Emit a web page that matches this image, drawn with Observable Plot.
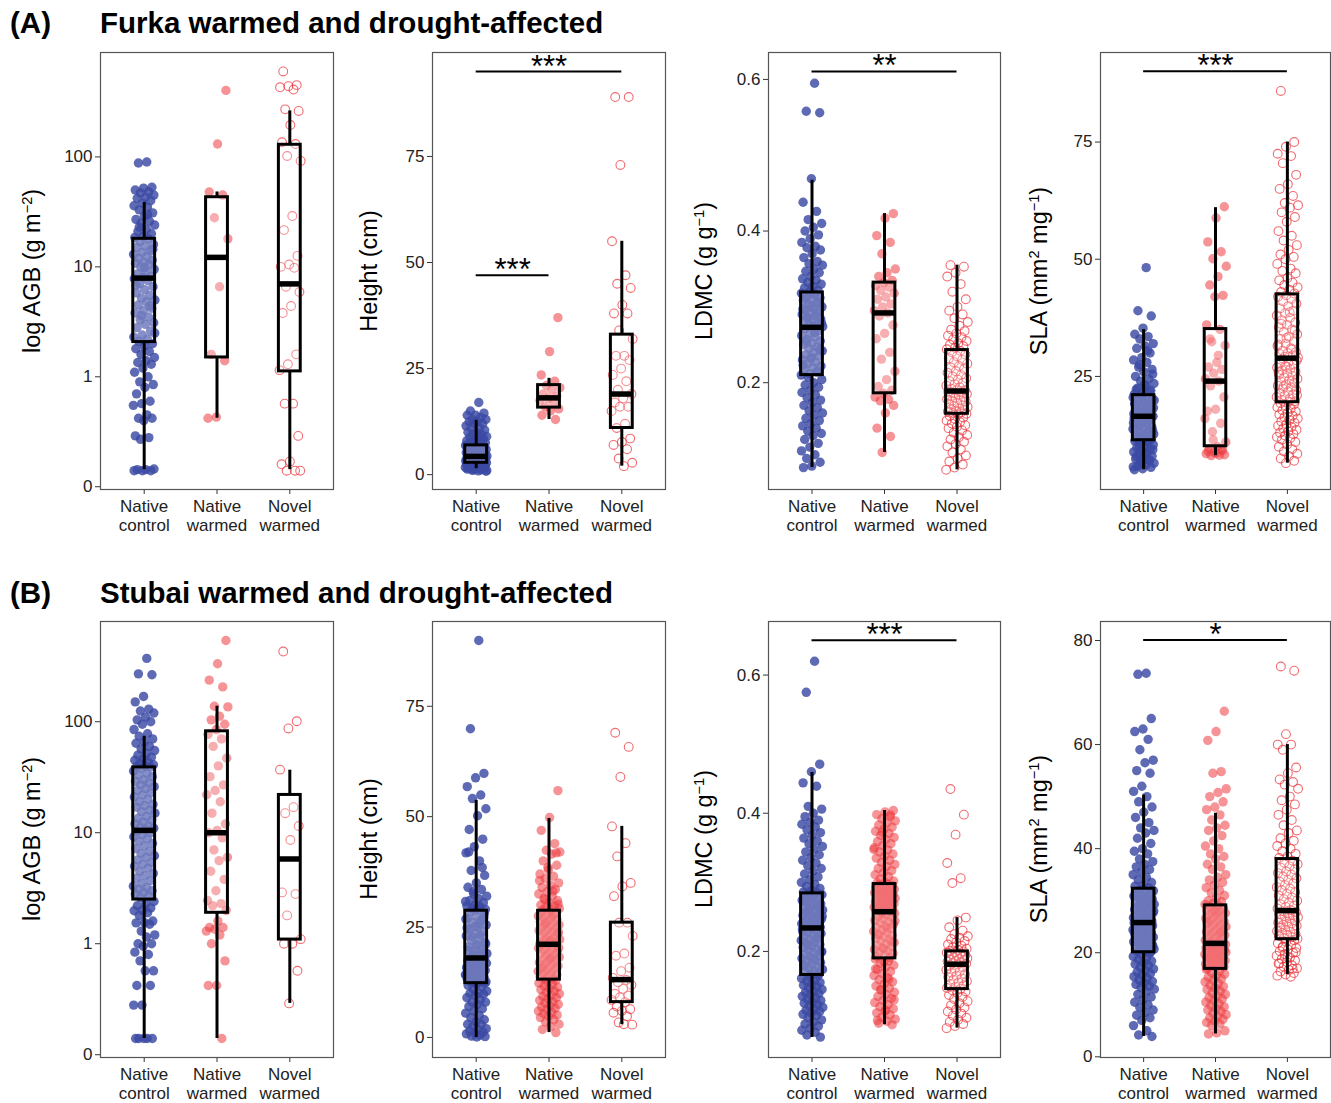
<!DOCTYPE html>
<html><head><meta charset="utf-8">
<script src="https://cdn.jsdelivr.net/npm/d3@7"></script>
<script src="https://cdn.jsdelivr.net/npm/@observablehq/plot@0.6"></script>
<style>
body{margin:0;background:#fff;}
#fig{position:relative;width:1331px;height:1103px;overflow:hidden;font-family:"Liberation Sans",Arial,Helvetica,sans-serif;background:#fff;}
.tag,.title{position:absolute;font-weight:bold;font-size:29.5px;line-height:1;color:#000;white-space:nowrap;}
.ylab{position:absolute;font-size:23.5px;color:#000;white-space:nowrap;line-height:1;transform:translate(-50%,-50%) rotate(-90deg);}
.ylab sup{font-size:0.62em;vertical-align:0.55em;line-height:0;}
.panel{position:absolute;}
.panel svg{overflow:visible;background:transparent;}
</style></head><body><div id="fig"></div>
<script>
// ---------- categories & tick labels ----------
const categories = ["Native\ncontrol", "Native\nwarmed", "Novel\nwarmed"];
const agbTicks = [0.1, 1, 10, 100];
const agbTickLabels = ["0", "1", "10", "100"];
const heightTicks = [0, 25, 50, 75];
const ldmcTicks = [0.2, 0.4, 0.6];
const furkaSlaTicks = [25, 50, 75];
const stubaiSlaTicks = [0, 20, 40, 60, 80];

// ---------- Furka: log AGB (g m-2) ----------
const furkaAgb_nc = [90, 88, 53, 52, 50, 48, 47, 45, 43, 42, 40, 38, 36, 35, 33, 31, 29, 27, 26, 25, 24, 22, 21, 20, 19, 18.5, 18, 17, 16, 15.5, 15, 14, 13.5, 13, 12.5, 12, 11.5, 11, 10.8, 10.5, 10, 9.5, 9, 8.6, 8.2, 8, 7.8, 7.5, 7, 6.6, 6.2, 5.8, 5.5, 5.2, 5, 4.8, 4.5, 4.2, 4, 3.8, 3.5, 3.3, 3.1, 3, 2.8, 2.6, 2.4, 2.3, 2.2, 2.1, 2.0, 1.9, 1.8, 1.7, 1.6, 1.5, 1.4, 1.35, 1.3, 1.2, 1.1, 1.0, 0.9, 0.85, 0.8, 0.7, 0.6, 0.57, 0.55, 0.45, 0.42, 0.42, 0.4, 0.29, 0.28, 0.27, 0.145, 0.143, 0.143, 0.14, 0.14, 0.14, 30, 23, 14.5, 9.8, 6.8, 4.4, 3.6, 2.5];
const furkaAgb_nw = [403, 131, 48, 45, 28, 18, 6.6, 1.6, 1.4, 0.43, 0.42];
const furkaAgb_vw = [599, 450, 440, 430, 410, 271, 262, 195, 136, 131, 102, 92, 29, 21.6, 12.6, 10.5, 10, 9.8, 6.6, 5.9, 4.4, 3.8, 1.6, 1.3, 1.15, 0.57, 0.57, 0.29, 0.17, 0.16, 0.14, 0.14, 0.14];
const furkaAgbBox = [[0.143, 2.07, 7.9, 18, 38.6], [0.42, 1.5, 12.2, 43, 48], [0.143, 1.12, 7.0, 129, 262]];

// ---------- Furka: Height (cm) ----------
const furkaHeight_nc = [17, 15, 14.5, 14, 14, 13.5, 13, 13, 12.5, 12.5, 12, 12, 11.5, 11, 11, 10.5, 10, 10, 9.5, 9.5, 9, 9, 8.8, 8.5, 8.2, 8, 8, 7.8, 7.5, 7.5, 7.2, 7, 7, 6.9, 6.8, 6.6, 6.5, 6.4, 6.2, 6, 6, 5.9, 5.8, 5.6, 5.5, 5.4, 5.2, 5, 5, 4.9, 4.8, 4.7, 4.6, 4.5, 4.4, 4.3, 4.3, 4.2, 4.1, 4, 4, 3.9, 3.8, 3.7, 3.6, 3.5, 3.5, 3.4, 3.3, 3.2, 3.1, 3, 3, 2.9, 2.8, 2.8, 2.7, 2.6, 2.5, 2.5, 2.4, 2.3, 2.2, 2.1, 2, 2, 1.9, 1.8, 1.7, 1.6, 1.5, 1.5, 1.4, 1.3, 1.2, 1, 0.8, 4.2, 3.9, 3.6, 3.3, 3.0, 2.7, 2.4, 2.1, 1.8, 1.6, 1.4, 1.2, 1.0, 0.9];
const furkaHeight_nw = [37, 29, 23.5, 22, 21, 20.5, 20, 19, 18.5, 18, 17.5, 17, 16, 15.5, 15, 14, 13];
const furkaHeight_vw = [89, 89, 73, 55, 47, 45, 44, 40, 38, 38, 34, 32, 28, 28, 27, 25, 23.5, 22, 20, 19, 18, 17, 16, 16, 15, 12, 11, 8.5, 7.7, 7, 6, 3.8, 2.8, 2];
const furkaHeightBox = [[1.4, 2.8, 4.3, 6.9, 12.8], [13, 15.8, 18.1, 21.1, 22.7], [2, 11, 19, 33, 55]];
const furkaHeightSig = [{a: 1, b: 3, y: 95, t: "***"}, {a: 1, b: 2, y: 47, t: "***"}];

// ---------- Furka: LDMC (g g-1) ----------
const furkaLdmc_nc = [0.595, 0.558, 0.556, 0.469, 0.438, 0.426, 0.415, 0.41, 0.405, 0.40, 0.395, 0.39, 0.385, 0.38, 0.378, 0.375, 0.37, 0.365, 0.36, 0.357, 0.355, 0.35, 0.347, 0.345, 0.34, 0.337, 0.335, 0.332, 0.33, 0.327, 0.325, 0.322, 0.32,
  0.318, 0.316, 0.314, 0.312, 0.31, 0.308, 0.305, 0.303, 0.3, 0.298, 0.296, 0.294, 0.292, 0.29, 0.288, 0.286, 0.284, 0.282, 0.28, 0.278, 0.276, 0.274, 0.317, 0.311, 0.306, 0.301, 0.297, 0.291, 0.285, 0.279, 0.275,
  0.271, 0.268, 0.265, 0.262, 0.26, 0.257, 0.255, 0.252, 0.25, 0.247, 0.245, 0.242, 0.24, 0.237, 0.235, 0.232, 0.23, 0.227, 0.225, 0.222, 0.22, 0.217, 0.215, 0.212, 0.21, 0.266, 0.254, 0.244, 0.233, 0.223, 0.214,
  0.207, 0.204, 0.2, 0.197, 0.194, 0.19, 0.187, 0.184, 0.18, 0.177, 0.174, 0.17, 0.167, 0.163, 0.16, 0.157, 0.153, 0.15, 0.146, 0.143, 0.14, 0.136, 0.133, 0.13, 0.125, 0.12, 0.115, 0.11, 0.105, 0.1, 0.095, 0.09, 0.088];
const furkaLdmc_nw = [0.423, 0.417, 0.394, 0.385, 0.37, 0.35, 0.345, 0.34, 0.335, 0.332, 0.328, 0.326, 0.322, 0.318, 0.313, 0.31, 0.304, 0.3, 0.295, 0.292, 0.288, 0.276, 0.265, 0.258, 0.24, 0.231, 0.215, 0.204, 0.195, 0.19, 0.186, 0.181, 0.178, 0.176, 0.17, 0.16, 0.14, 0.129, 0.108];
const furkaLdmc_vw = [0.355, 0.353, 0.345, 0.34, 0.33, 0.32, 0.31, 0.3, 0.295, 0.29, 0.285, 0.28, 0.275, 0.27, 0.268, 0.265, 0.262, 0.26, 0.257, 0.255, 0.252, 0.25, 0.248, 0.246, 0.244,
  0.242, 0.24, 0.237, 0.235, 0.232, 0.23, 0.227, 0.225, 0.222, 0.22, 0.218, 0.215, 0.213, 0.21, 0.208, 0.206, 0.204, 0.202, 0.2, 0.198, 0.196, 0.194, 0.192, 0.19, 0.19,
  0.188, 0.187, 0.186, 0.185, 0.184, 0.182, 0.181, 0.18, 0.178, 0.177, 0.176, 0.175, 0.173, 0.172, 0.17, 0.169, 0.168, 0.166, 0.165, 0.164, 0.163, 0.162, 0.161, 0.16, 0.159,
  0.158, 0.156, 0.154, 0.152, 0.15, 0.148, 0.146, 0.144, 0.142, 0.14, 0.137, 0.134, 0.131, 0.128, 0.125, 0.122, 0.119, 0.116, 0.112, 0.108, 0.104, 0.1, 0.096, 0.092, 0.088, 0.085];
const furkaLdmcBox = [[0.088, 0.21, 0.273, 0.319, 0.467], [0.108, 0.186, 0.292, 0.332, 0.423], [0.085, 0.159, 0.189, 0.243, 0.355]];
const furkaLdmcSig = [{a: 1, b: 3, y: 0.6105, t: "**"}];

// ---------- Furka: SLA (mm2 mg-1) ----------
const furkaSla_nc = [48.2, 39, 37.9, 35.3, 34, 33.5, 33, 32, 31.5, 31, 30, 29, 28.5, 28, 27, 26.5, 26, 25, 24.5, 24, 23.5, 23, 22.5, 22, 21.5, 21.2, 30.5, 27.5, 25.5, 23.2, 22.2, 21.8,
  20.8, 20.5, 20.2, 20, 19.7, 19.4, 19.1, 18.8, 18.5, 18.3, 18, 17.8, 17.5, 17.3, 17, 16.8, 16.6, 20.3, 19.5, 18.6, 17.6, 16.9, 19.9, 18.2, 17.1, 16.7, 20.6, 19.2, 18.1, 17.4, 16.5,
  16.3, 16, 15.7, 15.4, 15.1, 14.8, 14.5, 14.2, 13.9, 13.6, 13.3, 13, 12.7, 12.4, 12.1, 11.8, 11.5, 16.1, 15.2, 14.4, 13.5, 12.6, 11.7, 15.9, 14.9, 13.8, 12.9, 12.2, 11.6, 11.4,
  11.2, 11, 10.7, 10.4, 10.1, 9.8, 9.5, 9.2, 8.9, 8.6, 8.3, 8, 7.7, 7.4, 7.1, 6.8, 6.5, 6.2, 5.9, 5.6, 5.3, 5.1, 10.9, 10.2, 9.4, 8.7, 7.9, 7.2, 6.4, 5.7];
const furkaSla_nw = [61.2, 58.8, 53.7, 51.6, 50.1, 48.5, 46.3, 44.5, 42.3, 42, 36, 35, 32.4, 31.6, 28, 27, 26.5, 25.7, 24.5, 24, 23, 20.6, 18, 17.6, 15, 13.2, 11, 10, 9.6, 9.2, 8.8, 8.5, 8.2, 8.1, 8.3, 8.6, 9, 9.4, 11.5, 16, 29.5, 33];
const furkaSla_vw = [85.9, 75, 74, 72.5, 72, 70.5, 68, 66, 65, 63.5, 62, 61.5, 61, 60, 59, 58, 56, 55, 54, 53, 52, 51, 50.5, 50, 49, 48, 47.5, 47, 46, 45.5, 45, 44.5, 44, 43.5, 43, 42.7,
  42.3, 42, 41.5, 41, 40.5, 40, 39.5, 39, 38.5, 38, 37.5, 37, 36.5, 36, 35.5, 35, 34.5, 34, 33.5, 33, 32.5, 32, 31.5, 31, 30.5, 30.2, 30, 29.8, 29.5, 29.2, 29, 38.7, 36.2, 34.8, 33.2, 31.8, 30.8,
  28.7, 28.4, 28.1, 27.8, 27.5, 27.2, 26.9, 26.6, 26.3, 26, 25.7, 25.4, 25.1, 24.8, 24.5, 24.2, 23.9, 23.6, 23.3, 23, 22.7, 22.4, 22.1, 21.8, 21.5, 21.2, 20.9, 20.6, 20.3, 20, 19.7, 27, 25.9, 24, 22.9, 21, 19.6,
  19.3, 19, 18.7, 18.4, 18.1, 17.8, 17.5, 17.2, 16.9, 16.6, 16.3, 16, 15.7, 15.4, 15.1, 14.8, 14.5, 14.2, 13.9, 13.6, 13.3, 13, 12.7, 12.4, 12.1, 11.8, 11.5, 11, 10.5, 10, 9.5, 9, 8.5, 8, 7.5, 7, 6.5];
const furkaSlaBox = [[5.1, 11.4, 16.5, 21, 35], [8.1, 10.1, 24, 35.1, 61], [6.5, 19.5, 28.9, 42.5, 75]];
const furkaSlaSig = [{a: 1, b: 3, y: 90.1, t: "***"}];

// ---------- Stubai: log AGB ----------
const stubaiAgb_nc = [372, 270, 265, 169, 151, 130, 125, 120, 110, 104, 100, 95, 85, 78, 74, 70, 66, 64, 60, 57, 55, 52, 50, 48, 46, 45, 43, 42, 41, 40, 39.5, 39,
  38, 36, 34, 33, 32, 30, 29, 28, 27, 26, 25, 24, 23, 22, 21, 20, 19, 18, 17.5, 17, 16, 15.5, 15, 14, 13.5, 13, 12.5, 12, 11.5, 11.2, 11, 10.7,
  10.3, 10, 9.6, 9.2, 8.8, 8.4, 8, 7.6, 7.2, 6.8, 6.5, 6.2, 6, 5.7, 5.4, 5.2, 5, 4.8, 4.5, 4.3, 4.1, 3.9, 3.7, 3.5, 3.3, 3.2, 3.1, 3, 2.9, 2.8, 2.7, 2.6,
  2.4, 2.3, 2.2, 2.1, 2, 1.98, 1.9, 1.8, 1.6, 1.55, 1.54, 1.5, 1.3, 1.2, 1.15, 1, 1, 0.95, 0.84, 0.8, 0.7, 0.57, 0.57, 0.42, 0.42, 0.28, 0.28, 0.14, 0.14, 0.14, 0.14, 0.14];
const stubaiAgb_nw = [539, 333, 237, 206, 138, 136, 112, 104, 95, 85, 77, 70, 60, 47, 40, 32, 27, 24, 22, 19, 15, 12, 10.5, 10, 9, 7, 6, 5.6, 4.5, 3.8, 3, 2.45, 2.3, 2.2, 2.0, 1.6, 1.4, 1.4, 1.35, 1.3, 1.2, 1.0, 0.7, 0.42, 0.42, 0.14];
const stubaiAgb_vw = [429, 101, 87, 37, 17, 15, 11.5, 8.6, 2.9, 2.8, 1.8, 1.1, 1.0, 1.0, 0.57, 0.29];
const stubaiAgbBox = [[0.14, 2.5, 10.5, 38.8, 74], [0.14, 1.9, 10, 82, 138], [0.29, 1.09, 5.8, 21.9, 36.6]];

// ---------- Stubai: Height ----------
const stubaiHeight_nc = [89.9, 69.9, 59.8, 58.8, 56.8, 54.9, 54.1, 51.8, 50.2, 47.1, 44.9, 43.2, 41.8, 40, 37.8, 36.7, 35, 34, 33.5, 33, 32, 31.5, 31, 30.5, 30, 29.8, 29.5, 29.2, 29, 28.9, 42, 38.5, 32.5, 30.8, 29.6,
  28.5, 28, 27.5, 27, 26.5, 26, 25.5, 25, 24.5, 24, 23.5, 23, 22.5, 22, 21.5, 21, 20.5, 20, 19.5, 19, 18.5, 18.2, 27.2, 25.2, 24.8, 23.2, 22.8, 21.2, 20.8, 19.8, 19.2, 18.8, 26.8, 25.8, 18.1,
  17.8, 17.6, 17.4, 17.2, 17, 16.8, 16.6, 16.4, 16.2, 16, 15.8, 15.6, 15.4, 15.2, 15, 14.8, 14.6, 14.4, 14.2, 14, 13.8, 13.6, 13.4, 13.2, 13, 12.8, 12.6, 12.4, 17.1, 16.1, 15.1, 14.1, 13.1, 12.5, 12.3,
  12, 11.8, 11.5, 11, 10.5, 10, 10, 9.8, 9.5, 9, 8.5, 8, 8, 7.5, 7, 6.5, 6, 5.5, 5, 4.5, 4, 3.5, 3, 3, 2.5, 2, 1.8, 1.5, 1.2, 1, 0.8, 0.5, 0.3, 0.2, 0.1];
const stubaiHeight_nw = [55.9, 49.8, 46.9, 43.9, 42.4, 42, 41.5, 40, 39, 38, 37, 36.5, 36, 35, 34.5, 34, 33.5, 33, 32.5, 32, 31.5, 31, 30.5, 30, 29.8, 29.5, 29.2, 29, 28.9, 41.8, 38.5, 35.5, 33.2, 31.2, 30.2,
  28.5, 28.2, 28, 27.7, 27.5, 27.2, 27, 26.7, 26.5, 26.2, 26, 25.7, 25.5, 25.2, 25, 24.7, 24.5, 24.2, 24, 23.7, 23.5, 23.2, 23, 22.7, 22.5, 22.2, 22, 21.8, 21.6, 21.4, 21.2, 27.8, 25.8, 23.8, 21.9,
  21, 20.8, 20.5, 20.2, 20, 19.7, 19.5, 19.2, 19, 18.7, 18.5, 18.2, 18, 17.7, 17.5, 17.2, 17, 16.7, 16.5, 16.2, 16, 15.7, 15.5, 15.2, 15, 14.7, 14.5, 14.2, 14, 13.7, 13.5, 13.2, 20.3, 17.8, 15.8,
  12.9, 12.6, 12.3, 12, 11.7, 11.4, 11.1, 10.8, 10.5, 10.2, 9.9, 9.6, 9.3, 9, 8.7, 8.4, 8.1, 7.8, 7.5, 7.2, 6.9, 6.6, 6.3, 6, 5.7, 5.4, 5.1, 4.8, 4.5, 4, 3.5, 3, 2.5, 1.8, 1.1];
const stubaiHeight_vw = [69, 65.8, 59, 47.8, 44, 41, 35, 34.2, 32, 26, 26, 23, 19, 18.5, 15.8, 15, 13.5, 13, 12.5, 11.9, 11, 9.9, 9.5, 9.1, 8.5, 8, 7, 6.4, 6, 5.6, 4.8, 3.4, 2.9, 3];
const stubaiHeightBox = [[0, 12.3, 18, 28.7, 53.7], [1.1, 13.1, 21.1, 28.7, 49.6], [2.9, 8, 13.1, 26, 47.8]];

// ---------- Stubai: LDMC ----------
const stubaiLdmc_nc = [0.62, 0.575, 0.471, 0.46, 0.444, 0.439, 0.41, 0.406, 0.4, 0.395, 0.39, 0.387, 0.384, 0.38, 0.376, 0.372, 0.368, 0.364, 0.36, 0.356, 0.352, 0.348, 0.344, 0.34, 0.336, 0.332, 0.328, 0.324, 0.32, 0.316, 0.312, 0.308, 0.304, 0.3, 0.297, 0.294, 0.291, 0.288, 0.286, 0.285,
  0.283, 0.282, 0.28, 0.279, 0.277, 0.276, 0.274, 0.272, 0.27, 0.269, 0.267, 0.265, 0.264, 0.262, 0.26, 0.258, 0.257, 0.255, 0.253, 0.252, 0.25, 0.249, 0.247, 0.246, 0.244, 0.243, 0.241, 0.24, 0.238, 0.237, 0.235, 0.281, 0.273, 0.266, 0.259, 0.251, 0.245, 0.239, 0.236, 0.234,
  0.232, 0.23, 0.228, 0.226, 0.224, 0.222, 0.22, 0.218, 0.216, 0.214, 0.212, 0.21, 0.208, 0.206, 0.204, 0.202, 0.2, 0.198, 0.196, 0.194, 0.192, 0.19, 0.188, 0.186, 0.184, 0.182, 0.18, 0.178, 0.176, 0.174, 0.172, 0.17, 0.168, 0.167, 0.229, 0.219, 0.209, 0.199, 0.189, 0.179,
  0.165, 0.163, 0.161, 0.159, 0.157, 0.155, 0.153, 0.151, 0.149, 0.147, 0.145, 0.143, 0.141, 0.139, 0.137, 0.135, 0.133, 0.131, 0.129, 0.127, 0.125, 0.123, 0.121, 0.119, 0.117, 0.115, 0.113, 0.111, 0.109, 0.107, 0.104, 0.101, 0.098, 0.095, 0.092, 0.089, 0.086, 0.083, 0.079, 0.076];
const stubaiLdmc_nw = [0.404, 0.402, 0.398, 0.395, 0.392, 0.389, 0.386, 0.383, 0.38, 0.377, 0.374, 0.371, 0.368, 0.365, 0.362, 0.359, 0.356, 0.353, 0.35, 0.347, 0.344, 0.341, 0.338, 0.335, 0.332, 0.329, 0.326, 0.323, 0.32, 0.317, 0.314, 0.311, 0.308, 0.305, 0.302, 0.3, 0.299, 0.3975, 0.3725, 0.3475,
  0.297, 0.296, 0.295, 0.294, 0.293, 0.292, 0.291, 0.29, 0.289, 0.288, 0.287, 0.286, 0.285, 0.284, 0.283, 0.282, 0.281, 0.28, 0.279, 0.278, 0.277, 0.276, 0.275, 0.274, 0.273, 0.272, 0.271, 0.27, 0.269, 0.268, 0.267, 0.266, 0.265, 0.264, 0.263, 0.262, 0.261, 0.26, 0.259, 0.258,
  0.257, 0.255, 0.253, 0.251, 0.249, 0.247, 0.245, 0.243, 0.241, 0.239, 0.237, 0.235, 0.233, 0.231, 0.229, 0.227, 0.225, 0.223, 0.221, 0.219, 0.217, 0.215, 0.213, 0.211, 0.209, 0.207, 0.205, 0.203, 0.201, 0.199, 0.197, 0.195, 0.193, 0.191, 0.254, 0.244, 0.234, 0.224, 0.214, 0.204,
  0.189, 0.186, 0.183, 0.18, 0.177, 0.174, 0.171, 0.168, 0.165, 0.162, 0.159, 0.156, 0.153, 0.15, 0.147, 0.144, 0.141, 0.138, 0.135, 0.132, 0.129, 0.126, 0.123, 0.12, 0.117, 0.114, 0.111, 0.108, 0.105, 0.102, 0.099, 0.096, 0.094, 0.185, 0.175, 0.16, 0.145, 0.13, 0.115, 0.1];
const stubaiLdmc_vw = [0.435, 0.398, 0.369, 0.328, 0.306, 0.299, 0.249, 0.245, 0.235, 0.23, 0.225, 0.222, 0.22, 0.218, 0.215, 0.213, 0.21, 0.208, 0.206, 0.204, 0.202, 0.201,
  0.2, 0.199, 0.198, 0.197, 0.196, 0.195, 0.194, 0.193, 0.192, 0.191, 0.19, 0.189, 0.188, 0.187, 0.186, 0.185, 0.184, 0.183, 0.182,
  0.181, 0.179, 0.177, 0.175, 0.173, 0.171, 0.169, 0.167, 0.165, 0.163, 0.161, 0.159, 0.157, 0.155, 0.153, 0.151, 0.149, 0.147, 0.146,
  0.144, 0.142, 0.14, 0.137, 0.134, 0.131, 0.128, 0.125, 0.122, 0.119, 0.116, 0.113, 0.11, 0.107, 0.104, 0.101, 0.098, 0.095, 0.092, 0.089];
const stubaiLdmcBox = [[0.0755, 0.166, 0.234, 0.284, 0.459], [0.094, 0.19, 0.2575, 0.2975, 0.404], [0.089, 0.1455, 0.1815, 0.2, 0.249]];
const stubaiLdmcSig = [{a: 1, b: 3, y: 0.6505, t: "***"}];

// ---------- Stubai: SLA ----------
const stubaiSla_nc = [73.7, 73.5, 65, 63, 62.5, 61, 59, 57, 56.5, 55, 54.5, 52, 51, 50, 49, 48, 47, 46, 45, 44, 43.5, 43, 42, 41, 40, 39.5, 39, 38, 37.5, 37, 36.5, 36, 35.5, 35, 34.5, 34, 33.5, 33, 32.8, 32.5,
  32.1, 31.9, 31.7, 31.5, 31.3, 31.1, 30.9, 30.7, 30.5, 30.3, 30.1, 29.9, 29.7, 29.5, 29.3, 29.1, 28.9, 28.7, 28.5, 28.3, 28.1, 27.9, 27.7, 27.5, 27.3, 27.1, 26.9, 26.7, 26.5, 26.3, 26.1, 25.9, 31, 30, 29, 28, 27, 26, 26.4, 28.8,
  25.7, 25.5, 25.4, 25.2, 25.1, 24.9, 24.7, 24.5, 24.4, 24.2, 24, 23.8, 23.7, 23.5, 23.3, 23.1, 23, 22.8, 22.6, 22.4, 22.3, 22.1, 21.9, 21.7, 21.6, 21.4, 21.2, 21, 20.9, 20.7, 20.5, 20.3, 20.2, 25, 24.1, 23.2, 22.2, 21.3, 20.4, 25.6,
  19.9, 19.6, 19.3, 19, 18.7, 18.4, 18.1, 17.8, 17.5, 17.2, 16.9, 16.6, 16.3, 16, 15.7, 15.4, 15.1, 14.8, 14.5, 14.2, 13.9, 13.6, 13.3, 13, 12.5, 12, 11.5, 11, 10.5, 10, 9.5, 9, 8.5, 8, 7.5, 7, 6, 5, 4.2, 3.9];
const stubaiSla_nw = [66.4, 62.5, 60.8, 54.8, 54.5, 51.5, 50.8, 50, 49, 48, 47.5, 46.5, 45.5, 44.5, 44, 43.5, 42.5, 41.5, 40.5, 40, 39, 38.5, 38, 37, 36.5, 36, 35, 34.5, 34, 33.5, 33, 32.5, 32, 31.5, 31, 30.5, 30, 29.8, 29.5, 29.3,
  29, 28.8, 28.6, 28.4, 28.2, 28, 27.8, 27.6, 27.4, 27.2, 27, 26.8, 26.6, 26.4, 26.2, 26, 25.8, 25.6, 25.4, 25.2, 25, 24.8, 24.6, 24.4, 24.2, 24, 23.8, 23.6, 23.4, 23.2, 23, 22.8, 22.6, 22.4, 22.2, 22, 21.9, 27.9, 25.9, 23.9,
  21.7, 21.6, 21.5, 21.3, 21.2, 21.1, 20.9, 20.8, 20.6, 20.5, 20.3, 20.2, 20, 19.9, 19.7, 19.6, 19.4, 19.3, 19.1, 19, 18.8, 18.7, 18.5, 18.4, 18.2, 18.1, 17.9, 17.8, 17.6, 17.5, 17.3, 17.2, 17, 21.4, 20.7, 20.1, 19.5, 18.9, 18.3, 17.7,
  16.8, 16.5, 16.2, 15.9, 15.6, 15.3, 15, 14.7, 14.4, 14.1, 13.8, 13.5, 13.2, 12.9, 12.6, 12.3, 12, 11.7, 11.4, 11.1, 10.8, 10.5, 10.2, 9.9, 9.6, 9.3, 9, 8.7, 8.4, 8.1, 7.8, 7.5, 7.2, 6.9, 6.6, 6.3, 6, 5, 4.6, 4.4];
const stubaiSla_vw = [75, 74.2, 62, 60, 60, 59, 55.6, 54.5, 53.3, 52.8, 52.3, 51.5, 50, 49.3, 48.5, 47.5, 46.5, 45.5, 44.5, 43.5, 43, 42, 41.5, 41, 40.5, 40, 39.5, 39, 38.5, 38.2,
  37.7, 37.3, 37, 36.6, 36.3, 36, 35.6, 35.3, 35, 34.6, 34.3, 34, 33.6, 33.3, 33, 32.6, 32.3, 32, 31.6, 31.3, 31, 30.6, 30.3, 30, 29.6, 29.3, 29, 28.8, 28.5, 28.2,
  28, 27.8, 27.6, 27.4, 27.2, 27, 26.8, 26.6, 26.4, 26.2, 26, 25.8, 25.6, 25.4, 25.2, 25, 24.8, 24.6, 24.4, 24.2, 24, 23.8, 23.6, 23.4, 23.2, 23, 22.8, 22.7, 27.1, 25.1,
  22.4, 22.1, 21.8, 21.5, 21.2, 20.9, 20.6, 20.3, 20, 19.7, 19.4, 19.1, 18.8, 18.5, 18.2, 17.9, 17.6, 17.3, 17, 16.7, 16.4, 16.1, 15.8, 15.6, 15.4, 21, 20.1, 19.2, 18, 16.9];
const stubaiSlaBox = [[3.9, 20.1, 25.8, 32.3, 50.3], [4.4, 16.9, 21.8, 29.1, 46.8], [15.8, 22.6, 28.1, 38, 60]];
const stubaiSlaSig = [{a: 1, b: 3, y: 80.1, t: "*"}];

// ---------- styling ----------
const BLUE = "#3A49A3", RED = "#EC3A40";
const FONT = "Liberation Sans, Arial, Helvetica, sans-serif";
const fig = document.getElementById("fig");

function addDiv(cls, html, left, top) {
  const d = document.createElement("div");
  d.className = cls; d.innerHTML = html;
  d.style.left = left + "px"; d.style.top = top + "px";
  fig.appendChild(d); return d;
}

const jitter = (i, g) => (((i + 1) * 0.6180339887 + g * 0.29) % 1 - 0.5) * 0.30;

function panel(cfg) {
  const mL = 100, mR = 1, mT = 1, mB = 52;
  const pts = [];
  cfg.groups.forEach((vals, g) => vals.forEach((v, i) => pts.push({g, v, x: g + 1 + jitter(i, g)})));
  const boxes = cfg.box.map((b, i) => ({c: i + 1, lo: b[0], q1: b[1], med: b[2], q3: b[3], hi: b[4]}));
  const sig = cfg.sig || [];
  const chart = Plot.plot({
    width: mL + cfg.fw + mR, height: mT + cfg.fh + mB,
    marginLeft: mL, marginRight: mR, marginTop: mT, marginBottom: mB,
    style: {fontFamily: FONT, fontSize: "17px", color: "#222", background: "transparent", overflow: "visible"},
    x: {type: "linear", domain: [0.4, 3.6]},
    y: {type: cfg.yType || "linear", domain: cfg.domain},
    marks: [
      Plot.dot(pts.filter(d => d.g === 0), {x: "x", y: "v", r: 4.7, fill: BLUE, fillOpacity: 0.82, stroke: "none"}),
      Plot.dot(pts.filter(d => d.g === 1), {x: "x", y: "v", r: 4.7, fill: RED, fillOpacity: 0.55, stroke: "none"}),
      Plot.dot(pts.filter(d => d.g === 2), {x: "x", y: "v", r: 4.4, fill: "none", stroke: RED, strokeOpacity: 0.75, strokeWidth: 1.1}),
      Plot.ruleX(boxes, {x: "c", y1: "q3", y2: "hi", stroke: "#000", strokeWidth: 3}),
      Plot.ruleX(boxes, {x: "c", y1: "lo", y2: "q1", stroke: "#000", strokeWidth: 3}),
      Plot.rect(boxes, {x1: d => d.c - 0.15, x2: d => d.c + 0.15, y1: "q1", y2: "q3", fill: "white", fillOpacity: 0.25, stroke: "#000", strokeWidth: 3}),
      Plot.ruleY(boxes, {y: "med", x1: d => d.c - 0.15, x2: d => d.c + 0.15, stroke: "#000", strokeWidth: 5.5}),
      Plot.ruleY(sig, {y: "y", x1: "a", x2: "b", stroke: "#000", strokeWidth: 2}),
      Plot.text(sig, {x: d => (d.a + d.b) / 2, y: "y", text: "t", lineAnchor: "bottom", dy: 5, fontSize: 31, fill: "#000"}),
      Plot.axisY({ticks: cfg.ticks, tickFormat: cfg.tickFormat, tickSize: 5, tickPadding: 3, fontSize: 17, label: null, stroke: "#333"}),
      Plot.axisX({ticks: [1, 2, 3], tickFormat: d => categories[d - 1], tickSize: 5, tickPadding: 4, fontSize: 17, lineHeight: 1.12, label: null, stroke: "#333"}),
      Plot.frame({stroke: "#555", strokeWidth: 1.2})
    ]
  });
  const wrap = document.createElement("div");
  wrap.className = "panel";
  wrap.style.left = (cfg.left - mL) + "px";
  wrap.style.top = (cfg.top - mT) + "px";
  wrap.style.width = (mL + cfg.fw + mR) + "px";
  wrap.appendChild(chart);
  fig.appendChild(wrap);
  addDiv("ylab", cfg.label, cfg.labelX, cfg.top + cfg.fh / 2);
}

const agbFmt = d => agbTickLabels[agbTicks.indexOf(d)] ?? String(d);
const ldmcFmt = d => d.toFixed(1);
const lefts = [100, 432, 768, 1100], widths = [233, 233, 232, 230], labelXs = [33, 370, 705, 1040];
const rowA = {top: 52, fh: 437}, rowB = {top: 621, fh: 436};
const L_AGB = "log AGB (g m<sup>−2</sup>)", L_H = "Height (cm)", L_LDMC = "LDMC (g g<sup>−1</sup>)", L_SLA = "SLA (mm<sup>2</sup> mg<sup>−1</sup>)";

addDiv("tag", "(A)", 10, 8);
addDiv("title", "Furka warmed and drought-affected", 100, 8);
addDiv("tag", "(B)", 10, 578);
addDiv("title", "Stubai warmed and drought-affected", 100, 578);

const specs = [
  [rowA, 0, [furkaAgb_nc, furkaAgb_nw, furkaAgb_vw], furkaAgbBox, null, "log", [0.0944, 891], agbTicks, agbFmt, L_AGB],
  [rowA, 1, [furkaHeight_nc, furkaHeight_nw, furkaHeight_vw], furkaHeightBox, furkaHeightSig, "linear", [-3.5, 99.5], heightTicks, null, L_H],
  [rowA, 2, [furkaLdmc_nc, furkaLdmc_nw, furkaLdmc_vw], furkaLdmcBox, furkaLdmcSig, "linear", [0.0591, 0.6355], ldmcTicks, ldmcFmt, L_LDMC],
  [rowA, 3, [furkaSla_nc, furkaSla_nw, furkaSla_vw], furkaSlaBox, furkaSlaSig, "linear", [0.88, 94.1], furkaSlaTicks, null, L_SLA],
  [rowB, 0, [stubaiAgb_nc, stubaiAgb_nw, stubaiAgb_vw], stubaiAgbBox, null, "log", [0.0944, 800], agbTicks, agbFmt, L_AGB],
  [rowB, 1, [stubaiHeight_nc, stubaiHeight_nw, stubaiHeight_vw], stubaiHeightBox, null, "linear", [-4.54, 94.2], heightTicks, null, L_H],
  [rowB, 2, [stubaiLdmc_nc, stubaiLdmc_nw, stubaiLdmc_vw], stubaiLdmcBox, stubaiLdmcSig, "linear", [0.0465, 0.6775], ldmcTicks, ldmcFmt, L_LDMC],
  [rowB, 3, [stubaiSla_nc, stubaiSla_nw, stubaiSla_vw], stubaiSlaBox, stubaiSlaSig, "linear", [-0.13, 83.65], stubaiSlaTicks, null, L_SLA]
];
for (const [row, col, groups, box, sig, yType, domain, ticks, fmt, label] of specs) {
  panel({top: row.top, fh: row.fh, left: lefts[col], fw: widths[col], labelX: labelXs[col],
    groups, box, sig, yType, domain, ticks, tickFormat: fmt || (d => String(d)), label});
}
</script></body></html>
